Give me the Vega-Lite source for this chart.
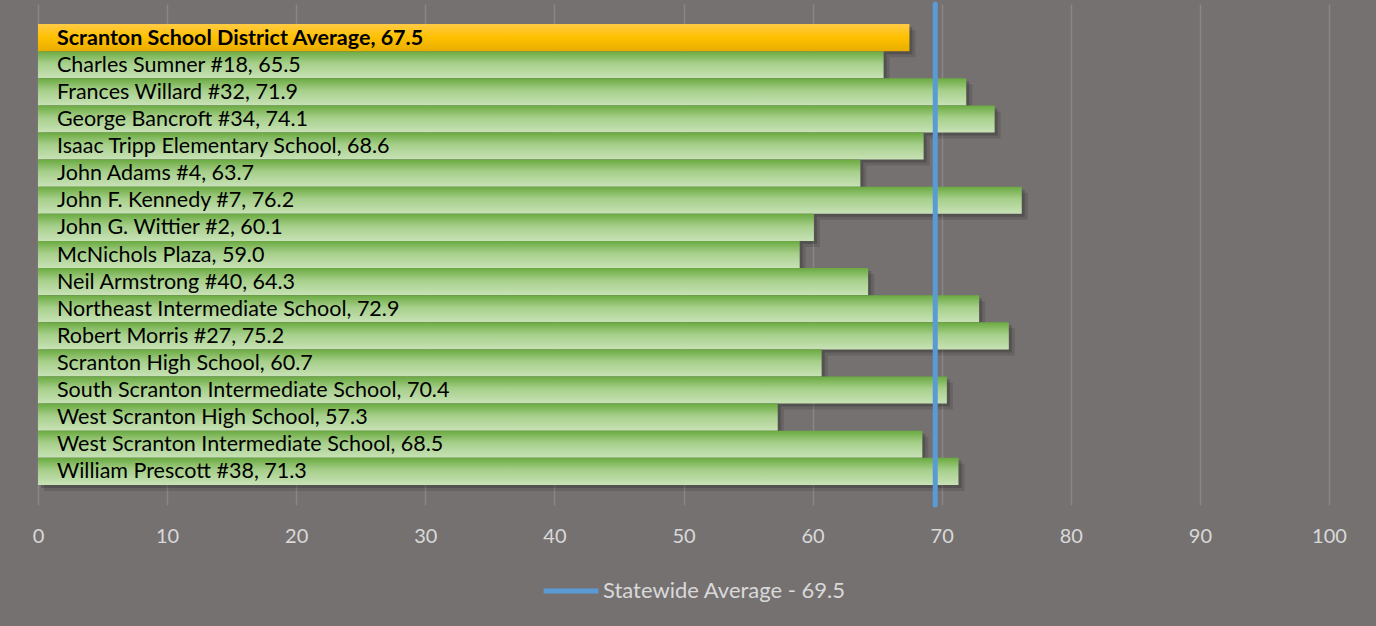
{
  "$schema": "https://vega.github.io/schema/vega-lite/v6.json",
  "autosize": {"type": "none"},
  "width": 1291,
  "height": 501,
  "padding": {"left": 38, "top": 4, "right": 47, "bottom": 121},
  "background": "#767171",
  "config": {
    "view": {"stroke": null},
    "font": "Lato"
  },
  "datasets": {
    "schools": [
      {"school": "Scranton School District Average", "score": 67.5, "label": "Scranton School District Average, 67.5", "kind": "district"},
      {"school": "Charles Sumner #18", "score": 65.5, "label": "Charles Sumner #18, 65.5", "kind": "school"},
      {"school": "Frances Willard #32", "score": 71.9, "label": "Frances Willard #32, 71.9", "kind": "school"},
      {"school": "George Bancroft #34", "score": 74.1, "label": "George Bancroft #34, 74.1", "kind": "school"},
      {"school": "Isaac Tripp Elementary School", "score": 68.6, "label": "Isaac Tripp Elementary School, 68.6", "kind": "school"},
      {"school": "John Adams #4", "score": 63.7, "label": "John Adams #4, 63.7", "kind": "school"},
      {"school": "John F. Kennedy #7", "score": 76.2, "label": "John F. Kennedy #7, 76.2", "kind": "school"},
      {"school": "John G. Wittier #2", "score": 60.1, "label": "John G. Wittier #2, 60.1", "kind": "school"},
      {"school": "McNichols Plaza", "score": 59.0, "label": "McNichols Plaza, 59.0", "kind": "school"},
      {"school": "Neil Armstrong #40", "score": 64.3, "label": "Neil Armstrong #40, 64.3", "kind": "school"},
      {"school": "Northeast Intermediate School", "score": 72.9, "label": "Northeast Intermediate School, 72.9", "kind": "school"},
      {"school": "Robert Morris #27", "score": 75.2, "label": "Robert Morris #27, 75.2", "kind": "school"},
      {"school": "Scranton High School", "score": 60.7, "label": "Scranton High School, 60.7", "kind": "school"},
      {"school": "South Scranton Intermediate School", "score": 70.4, "label": "South Scranton Intermediate School, 70.4", "kind": "school"},
      {"school": "West Scranton High School", "score": 57.3, "label": "West Scranton High School, 57.3", "kind": "school"},
      {"school": "West Scranton Intermediate School", "score": 68.5, "label": "West Scranton Intermediate School, 68.5", "kind": "school"},
      {"school": "William Prescott #38", "score": 71.3, "label": "William Prescott #38, 71.3", "kind": "school"}
    ],
    "state": [
      {"value": 69.5, "series": "Statewide Average - 69.5"}
    ]
  },
  "data": {"name": "schools"},
  "encoding": {
    "y": {
      "field": "school",
      "type": "nominal",
      "sort": null,
      "axis": null,
      "scale": {"paddingInner": 0, "paddingOuter": 0.74}
    }
  },
  "layer": [
    {
      "mark": {"type": "bar", "color": "#000000", "opacity": 0.12, "xOffset": 6, "yOffset": 6},
      "encoding": {
        "x": {
          "field": "score",
          "type": "quantitative",
          "scale": {"domain": [0, 100]},
          "axis": {
            "values": [0, 10, 20, 30, 40, 50, 60, 70, 80, 90, 100],
            "title": null,
            "domain": false,
            "ticks": false,
            "grid": true,
            "gridColor": "#8a8686",
            "gridWidth": 1.5,
            "labelColor": "#D9D9D9",
            "labelFontSize": 20,
            "labelPadding": 21,
            "labelFlush": false,
            "labelFont": "Lato"
          }
        }
      }
    },
    {
      "mark": {"type": "bar", "color": "#000000", "opacity": 0.18, "xOffset": 3, "yOffset": 3},
      "encoding": {"x": {"field": "score", "type": "quantitative"}}
    },
    {
      "transform": [{"filter": "datum.kind === 'school'"}],
      "mark": {
        "type": "bar",
        "color": {
          "gradient": "linear", "x1": 0, "y1": 0, "x2": 0, "y2": 1,
          "stops": [
            {"offset": 0, "color": "#6AAA40"},
            {"offset": 0.45, "color": "#A6CF8A"},
            {"offset": 1, "color": "#C8E2B6"}
          ]
        }
      },
      "encoding": {"x": {"field": "score", "type": "quantitative"}}
    },
    {
      "transform": [{"filter": "datum.kind === 'district'"}],
      "mark": {
        "type": "bar",
        "color": {
          "gradient": "linear", "x1": 0, "y1": 0, "x2": 0, "y2": 1,
          "stops": [
            {"offset": 0, "color": "#FFCB45"},
            {"offset": 0.5, "color": "#FFC000"},
            {"offset": 1, "color": "#E8AD00"}
          ]
        }
      },
      "encoding": {"x": {"field": "score", "type": "quantitative"}}
    },
    {
      "transform": [{"filter": "datum.kind === 'school'"}],
      "mark": {"type": "text", "align": "left", "baseline": "middle", "dx": 19, "dy": 1, "fontSize": 21.5, "color": "#000000", "font": "Lato", "fontWeight": "normal"},
      "encoding": {
        "x": {"datum": 0, "type": "quantitative"},
        "text": {"field": "label"}
      }
    },
    {
      "transform": [{"filter": "datum.kind === 'district'"}],
      "mark": {"type": "text", "align": "left", "baseline": "middle", "dx": 19, "dy": 1, "fontSize": 21.5, "color": "#000000", "font": "Lato", "fontWeight": "bold"},
      "encoding": {
        "x": {"datum": 0, "type": "quantitative"},
        "text": {"field": "label"}
      }
    },
    {
      "data": {"name": "state"},
      "mark": {"type": "rule", "strokeWidth": 5, "strokeCap": "round"},
      "encoding": {
        "x": {"field": "value", "type": "quantitative"},
        "y": null,
        "stroke": {
          "field": "series",
          "type": "nominal",
          "scale": {"range": ["#5B9BD5"]},
          "legend": {
            "title": null,
            "orient": "none",
            "legendX": 503,
            "legendY": 557,
            "symbolType": "stroke",
            "symbolStrokeWidth": 5,
            "symbolSize": 3000,
            "labelColor": "#D9D9D9",
            "labelFontSize": 22,
            "labelFont": "Lato",
            "labelLimit": 0,
            "labelOffset": 2
          }
        }
      }
    }
  ]
}
